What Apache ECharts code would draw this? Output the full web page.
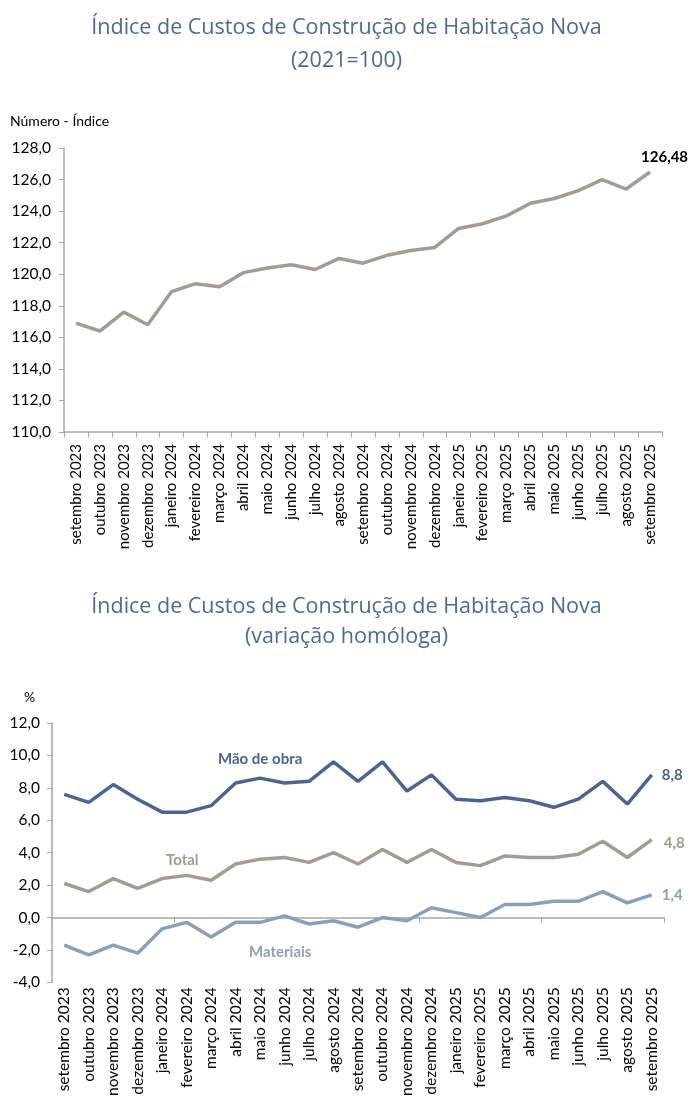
<!DOCTYPE html>
<html><head><meta charset="utf-8">
<script src="https://cdn.jsdelivr.net/npm/echarts@6/dist/echarts.min.js"></script>
<style>html,body{margin:0;padding:0;background:#fff}#c{width:693px;height:1099px}</style>
</head><body><div id="c"></div>
<script>
const categories = ["setembro 2023","outubro 2023","novembro 2023","dezembro 2023","janeiro 2024","fevereiro 2024","março 2024","abril 2024","maio 2024","junho 2024","julho 2024","agosto 2024","setembro 2024","outubro 2024","novembro 2024","dezembro 2024","janeiro 2025","fevereiro 2025","março 2025","abril 2025","maio 2025","junho 2025","julho 2025","agosto 2025","setembro 2025"];
const indice = [116.9,116.4,117.6,116.8,118.9,119.4,119.2,120.1,120.4,120.6,120.3,121.0,120.7,121.2,121.5,121.7,122.9,123.2,123.7,124.5,124.8,125.3,126.0,125.4,126.48];
const maoDeObra = [7.6,7.1,8.2,7.3,6.5,6.5,6.9,8.3,8.6,8.3,8.4,9.6,8.4,9.6,7.8,8.8,7.3,7.2,7.4,7.2,6.8,7.3,8.4,7.0,8.8];
const total = [2.1,1.6,2.4,1.8,2.4,2.6,2.3,3.3,3.6,3.7,3.4,4.0,3.3,4.2,3.4,4.2,3.4,3.2,3.8,3.7,3.7,3.9,4.7,3.7,4.8];
const materiais = [-1.7,-2.3,-1.7,-2.2,-0.7,-0.3,-1.2,-0.3,-0.3,0.1,-0.4,-0.2,-0.6,0.0,-0.2,0.6,0.3,0.0,0.8,0.8,1.0,1.0,1.6,0.9,1.4];
const yTop = {min:110, max:128, interval:2};
const yBottom = {min:-4, max:12, interval:2};

const C_MAO = '#4b6590', C_TOT = '#a39c92', C_MAT = '#8c9fb8', TITLE = '#4f6a92', AX = '#a6a6a6';
const FONT = 'Lato, "Open Sans", sans-serif';
const fmt1 = v => v.toFixed(1).replace('.', ',');
const endLbl = (color, offset) => ({show:true, distance:10, offset:offset, color:color, fontWeight:'bold', fontSize:15, fontFamily:FONT,
  formatter: p => fmt1(Array.isArray(p.value) ? p.value[1] : p.value)});

const chart = echarts.init(document.getElementById('c'), null, {renderer:'canvas'});
chart.setOption({
  animation:false,
  textStyle:{fontFamily:FONT},
  title:[
    {text:'Índice de Custos de Construção de Habitação Nova\n(2021=100)', left:'center', top:6,
     textStyle:{color:TITLE, fontSize:21.5, fontWeight:'normal', fontFamily:'"Open Sans", sans-serif', lineHeight:33}},
    {text:'Índice de Custos de Construção de Habitação Nova\n(variação homóloga)', left:'center', top:587,
     textStyle:{color:TITLE, fontSize:21.5, fontWeight:'normal', fontFamily:'"Open Sans", sans-serif', lineHeight:30}}
  ],
  graphic:[
    {type:'text', left:10, top:114, style:{text:'Número - Índice', fontSize:14, fill:'#000', fontFamily:FONT}},
    {type:'text', left:24, top:690, style:{text:'%', fontSize:14, fill:'#000', fontFamily:FONT}},
    {type:'text', left:218, top:752, style:{text:'Mão de obra', fontSize:15, fontWeight:'bold', fill:C_MAO, fontFamily:FONT}},
    {type:'text', left:166, top:853, style:{text:'Total', fontSize:15, fontWeight:'bold', fill:C_TOT, fontFamily:FONT}},
    {type:'text', left:249, top:945, style:{text:'Materiais', fontSize:15, fontWeight:'bold', fill:C_MAT, fontFamily:FONT}}
  ],
  grid:[
    {left:64, right:31, top:148, height:284},
    {left:52, right:29, top:723, height:272}
  ],
  xAxis:[
    {gridIndex:0, type:'category', data:categories, boundaryGap:true,
     axisLine:{lineStyle:{color:AX, width:1.5}}, axisTick:{show:true, length:5, lineStyle:{color:AX}},
     axisLabel:{rotate:90, interval:0, color:'#000', fontSize:15, fontFamily:FONT, margin:12}},
    {gridIndex:1, type:'category', data:categories, boundaryGap:true, position:'bottom',
     axisLine:{show:false, onZero:false}, axisTick:{show:false},
     axisLabel:{rotate:90, interval:0, color:'#000', fontSize:15.5, fontFamily:FONT, margin:5}},
    {gridIndex:1, type:'category', data:categories, boundaryGap:true, position:'top',
     axisLine:{show:true, onZero:true, lineStyle:{color:AX, width:1.5}},
     axisTick:{show:true, inside:true, length:5, lineStyle:{color:AX}},
     axisLabel:{show:false}}
  ],
  yAxis:[
    {gridIndex:0, type:'value', min:yTop.min, max:yTop.max, interval:yTop.interval,
     axisLine:{show:true, lineStyle:{color:AX, width:1.5}}, axisTick:{show:true, length:5, lineStyle:{color:AX}},
     splitLine:{show:false}, axisLabel:{color:'#000', fontSize:15.5, fontFamily:FONT, margin:13, formatter:fmt1}},
    {gridIndex:1, type:'value', min:yBottom.min, max:yBottom.max, interval:yBottom.interval,
     axisLine:{show:true, lineStyle:{color:AX, width:1.5}}, axisTick:{show:true, length:5, lineStyle:{color:AX}},
     splitLine:{show:false}, axisLabel:{color:'#000', fontSize:15.5, fontFamily:FONT, margin:12, formatter:fmt1}}
  ],
  series:[
    {type:'line', xAxisIndex:0, yAxisIndex:0, data:indice, symbol:'none',
     lineStyle:{color:C_TOT, width:3.5}, itemStyle:{color:C_TOT},
     endLabel:{show:true, distance:5, offset:[-14,-15], color:'#000', fontWeight:'bold', fontSize:15, fontFamily:FONT,
       formatter: p => p.value.toFixed(2).replace('.', ',')}},
    {type:'line', xAxisIndex:1, yAxisIndex:1, data:maoDeObra, symbol:'none',
     lineStyle:{color:C_MAO, width:3.5}, itemStyle:{color:C_MAO}, endLabel:endLbl(C_MAO,[0,0])},
    {type:'line', xAxisIndex:1, yAxisIndex:1, data:total, symbol:'none',
     lineStyle:{color:C_TOT, width:3.5}, itemStyle:{color:C_TOT}, endLabel:endLbl(C_TOT,[2,3])},
    {type:'line', xAxisIndex:1, yAxisIndex:1, data:materiais, symbol:'none',
     lineStyle:{color:C_MAT, width:3.5}, itemStyle:{color:C_MAT}, endLabel:endLbl(C_MAT,[0,0])}
  ]
});
</script></body></html>
